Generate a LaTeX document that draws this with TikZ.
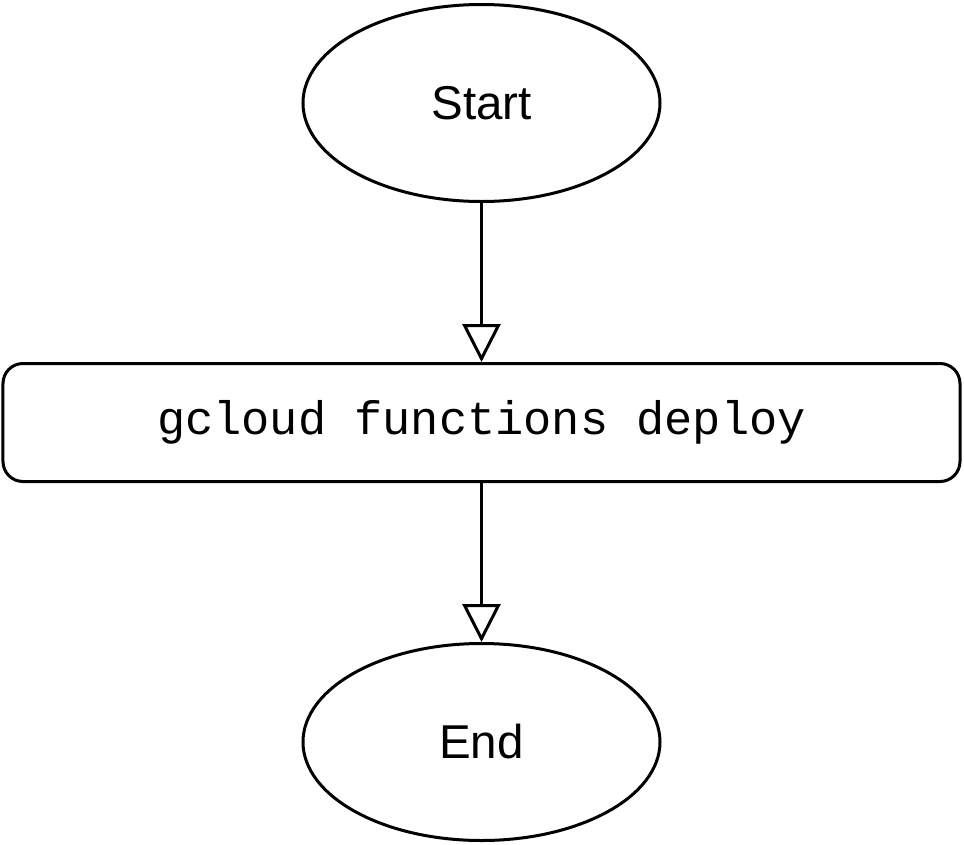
\documentclass[tikz,border=0pt]{standalone}
\usepackage{fontspec}
\setmainfont{Liberation Sans}
\setmonofont{Liberation Mono}
\usetikzlibrary{arrows.meta, positioning, shapes.geometric}
\tikzset{
  terminal/.style={
    ellipse, draw=black, fill=white, line width=3pt,
    minimum width=357pt, minimum height=197pt,
    inner sep=0pt, font=\fontsize{47.5}{52}\selectfont
  },
  cmdbox/.style={
    rectangle, rounded corners=20pt,
    draw=black, fill=white, line width=3pt,
    minimum width=957pt, minimum height=118pt,
    inner sep=0pt, font=\ttfamily\fontsize{47}{52}\selectfont
  },
  flow/.style={-{Triangle[open, length=38pt, width=38pt]}, line width=3pt, draw=black},
}

\begin{document}
\begin{tikzpicture}[node distance=159pt]
  \useasboundingbox (-481.5pt,103pt) rectangle (482.5pt,-741pt);

  \node[terminal] (start) at (0,0) {Start};
  \node[cmdbox, below=of start] (deploy) {gcloud functions deploy};
  \node[terminal, below=of deploy] (end) {End};

  \draw[flow] (start) -- (deploy);
  \draw[flow] (deploy) -- (end);
\end{tikzpicture}
\end{document}
